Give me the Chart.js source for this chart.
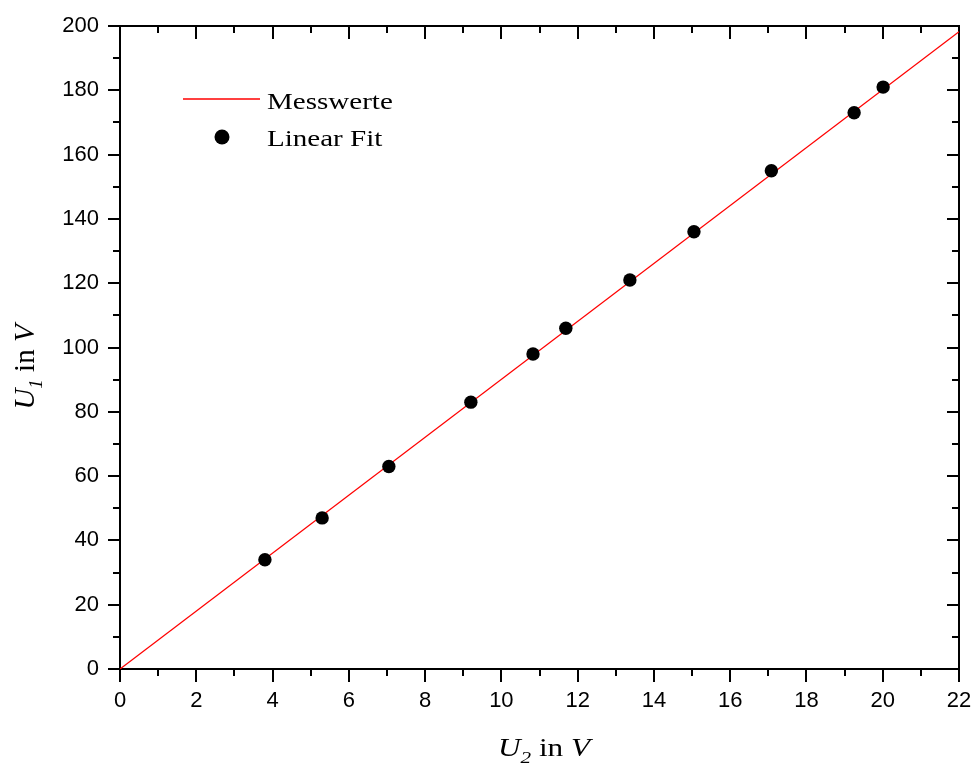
<!DOCTYPE html>
<html>
<head>
<meta charset="utf-8">
<script src="https://cdn.jsdelivr.net/npm/chart.js@4/dist/chart.umd.min.js"></script>
<style>
html,body{margin:0;padding:0;background:#fff;}
#wrap{width:972px;height:767px;position:relative;}
</style>
</head>
<body>
<div id="wrap"><canvas id="c" width="972" height="767"></canvas></div>
<script>
// Data
const u2Values = [3.80, 5.30, 7.05, 9.20, 10.83, 11.69, 13.37, 15.05, 17.08, 19.25, 20.01];
const u1Values = [34, 47, 63, 83, 98, 106, 121, 136, 155, 173, 181];
const fitX = [0, 22];
const fitY = [0, 198.2];
const xTicks = [0, 2, 4, 6, 8, 10, 12, 14, 16, 18, 20, 22];
const yTicks = [0, 20, 40, 60, 80, 100, 120, 140, 160, 180, 200];
const seriesNames = ['Messwerte', 'Linear Fit'];

const pointsData = u2Values.map((x, i) => ({x: x, y: u1Values[i]}));
const lineData = fitX.map((x, i) => ({x: x, y: fitY[i]}));

function drawStretched(ctx, text, x, y, sx) {
  ctx.save();
  ctx.translate(x, y);
  ctx.scale(sx, 1);
  ctx.fillText(text, 0, 0);
  ctx.restore();
}

const framePlugin = {
  id: 'frame',
  beforeDatasetsDraw(chart) {
    const ctx = chart.ctx;
    const a = chart.chartArea;
    const xs = chart.scales.x, ys = chart.scales.y;
    ctx.save();
    ctx.strokeStyle = '#000';
    ctx.lineWidth = 2;
    ctx.lineCap = 'butt';
    ctx.beginPath();
    ctx.moveTo(a.left - 1, a.top); ctx.lineTo(a.right + 1, a.top);
    ctx.moveTo(a.right, a.top); ctx.lineTo(a.right, a.bottom + 1);
    ctx.stroke();
    ctx.beginPath();
    for (let v = xs.min; v <= xs.max + 1e-9; v += 1) {
      const px = Math.round(xs.getPixelForValue(v));
      const major = Math.round(v) % 2 === 0;
      const len = major ? 13 : 7;
      ctx.moveTo(px, a.bottom); ctx.lineTo(px, a.bottom + len);
      ctx.moveTo(px, a.top); ctx.lineTo(px, a.top + len);
    }
    for (let v = ys.min; v <= ys.max + 1e-9; v += 10) {
      const py = Math.round(ys.getPixelForValue(v));
      const major = Math.round(v) % 20 === 0;
      const len = major ? 12 : 7;
      ctx.moveTo(a.left - len, py); ctx.lineTo(a.left, py);
      ctx.moveTo(a.right - len, py); ctx.lineTo(a.right, py);
    }
    ctx.stroke();
    ctx.restore();
  },
  afterDraw(chart) {
    const ctx = chart.ctx;
    ctx.save();
    ctx.fillStyle = '#000';
    ctx.textBaseline = 'alphabetic';
    ctx.textAlign = 'left';
    const lineDs = chart.data.datasets[1];
    const ptDs = chart.data.datasets[0];
    ctx.strokeStyle = lineDs.borderColor;
    ctx.lineWidth = 1.3;
    ctx.beginPath();
    ctx.moveTo(183, 99); ctx.lineTo(260, 99);
    ctx.stroke();
    ctx.fillStyle = ptDs.backgroundColor;
    ctx.beginPath();
    ctx.arc(222, 137, 7.5, 0, Math.PI * 2);
    ctx.fill();
    ctx.fillStyle = '#000';
    ctx.font = '24px "Liberation Serif", "Times New Roman", serif';
    drawStretched(ctx, lineDs.label, 267, 109, 1.21);
    drawStretched(ctx, ptDs.label, 267, 146, 1.21);

    const sx = 1.25;
    const fBig = 25, fSub = 17;
    const parts = [
      {t: 'U', f: 'italic ' + fBig + 'px "Liberation Serif", serif', dy: 0},
      {t: '2', f: 'italic ' + fSub + 'px "Liberation Serif", serif', dy: 7},
      {t: ' in ', f: fBig + 'px "Liberation Serif", serif', dy: 0},
      {t: 'V', f: 'italic ' + fBig + 'px "Liberation Serif", serif', dy: 0}
    ];
    let total = 0;
    parts.forEach(p => { ctx.font = p.f; p.w = ctx.measureText(p.t).width; total += p.w; });
    ctx.save();
    ctx.translate(544, 756);
    ctx.scale(sx, 1);
    let cx = -total / 2;
    parts.forEach(p => { ctx.font = p.f; ctx.fillText(p.t, cx, p.dy); cx += p.w; });
    ctx.restore();

    const yb = 29, ysub = 19;
    const yparts = [
      {t: 'U', f: 'italic ' + yb + 'px "Liberation Serif", serif', dy: 0},
      {t: '1', f: 'italic ' + ysub + 'px "Liberation Serif", serif', dy: 8},
      {t: ' in ', f: yb + 'px "Liberation Serif", serif', dy: 0},
      {t: 'V', f: 'italic ' + yb + 'px "Liberation Serif", serif', dy: 0}
    ];
    let ytotal = 0;
    yparts.forEach(p => { ctx.font = p.f; p.w = ctx.measureText(p.t).width; ytotal += p.w; });
    ctx.save();
    ctx.translate(34, 367);
    ctx.rotate(-Math.PI / 2);
    let cy = -ytotal / 2;
    yparts.forEach(p => { ctx.font = p.f; ctx.fillText(p.t, cy, p.dy); cy += p.w; });
    ctx.restore();
    ctx.restore();
  }
};

new Chart(document.getElementById('c'), {
  type: 'scatter',
  data: {
    datasets: [
      {
        label: seriesNames[1],
        data: pointsData,
        backgroundColor: '#000000',
        borderColor: '#000000',
        pointRadius: 6.7,
        pointHoverRadius: 6.7,
        borderWidth: 0,
        order: 0
      },
      {
        label: seriesNames[0],
        data: lineData,
        showLine: true,
        borderColor: '#ff0000',
        backgroundColor: '#ff0000',
        borderWidth: 1.3,
        pointRadius: 0,
        pointHoverRadius: 0,
        order: 1
      }
    ]
  },
  options: {
    responsive: false,
    animation: false,
    devicePixelRatio: 1,
    layout: {padding: {left: 0, right: 13, top: 26, bottom: 0}},
    plugins: {legend: {display: false}, tooltip: {enabled: false}, title: {display: false}},
    scales: {
      x: {
        type: 'linear',
        min: 0, max: 22,
        afterFit(s) { s.height = 98; s.paddingLeft = 0; s.paddingRight = 0; },
        afterBuildTicks(s) { s.ticks = xTicks.map(v => ({value: v})); },
        grid: {display: true, drawOnChartArea: false, drawTicks: false},
        border: {display: true, color: '#000', width: 2},
        ticks: {
          color: '#000', padding: 19,
          font: {family: '"Liberation Sans", Arial, sans-serif', size: 22},
          maxRotation: 0, autoSkip: false
        }
      },
      y: {
        type: 'linear',
        min: 0, max: 200,
        afterFit(s) { s.width = 120; s.paddingTop = 0; s.paddingBottom = 0; },
        afterBuildTicks(s) { s.ticks = yTicks.map(v => ({value: v})); },
        grid: {display: true, drawOnChartArea: false, drawTicks: false},
        border: {display: true, color: '#000', width: 2},
        ticks: {
          color: '#000', padding: 21,
          font: {family: '"Liberation Sans", Arial, sans-serif', size: 22},
          autoSkip: false
        }
      }
    }
  },
  plugins: [framePlugin]
});
</script>
</body>
</html>
